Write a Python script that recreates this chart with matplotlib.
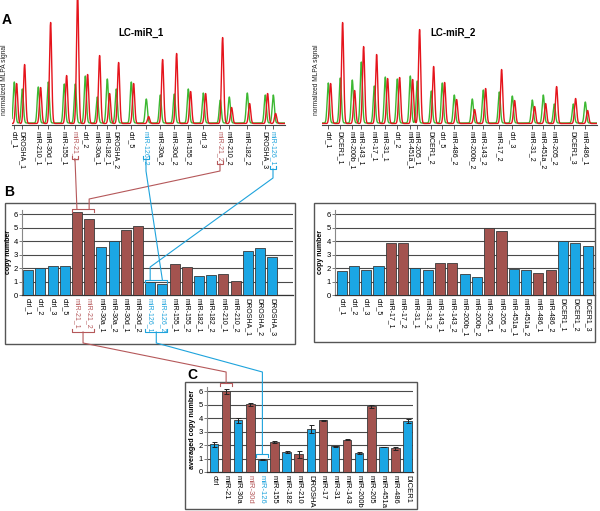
import numpy as np
import matplotlib
matplotlib.use("Agg")
import matplotlib.pyplot as plt
from matplotlib.patches import Rectangle

plt.rcParams['font.family'] = ['Liberation Sans', 'DejaVu Sans']

W, H = 600, 511
RED = "#e5141c"
GREEN = "#3cb832"
BLUE = "#1ba6e4"
BROWN = "#a3534f"
LBROWN = "#b5585a"
LBLUE = "#1ea3dc"

# ---------------- Panel A data ----------------
a1_labels = ["ctrl_1", "DROSHA_1", "miR-210_1", "miR-30d_1", "miR-155_1", "miR-21_1", "ctrl_2",
             "miR-30a_1", "miR-182_1", "DROSHA_2", "ctrl_5", "miR-126_2", "miR-30a_2", "miR-30d_2",
             "miR-155_2", "ctrl_3", "miR-21_2", "miR-210_2", "miR-182_2", "DROSHA_3", "miR-126_1"]
a1_pos = [2, 10, 26, 36, 52, 63, 73, 85, 95, 104, 119, 134, 148, 162, 176, 191, 208, 217, 235, 253, 261]
a1_green = [41, 34, 36, 41, 39, 39, 47, 26, 44, 34, 41, 24, 28, 29, 34, 30, 23, 26, 30, 28, 28]
a1_red = [40, 59, 36, 101, 48, 130, 49, 68, 30, 61, 40, 7, 64, 70, 32, 30, 86, 16, 20, 30, 10]

a2_labels = ["ctrl_1", "DICER1_1", "miR-200b_1", "miR-143_1", "miR-17_1", "miR-31_1", "ctrl_2",
             "miR-451a_1", "miR-205_1", "DICER1_2", "ctrl_5", "miR-486_2", "miR-200b_2", "miR-143_2",
             "miR-17_2", "ctrl_3", "miR-31_2", "miR-451a_2", "miR-205_2", "DICER1_3", "miR-486_1"]
a2_pos = [6, 18, 30, 39, 52, 63, 75, 88, 95, 109, 120, 132, 150, 161, 177, 190, 210, 221, 232, 251, 263]
a2_green = [40, 45, 43, 61, 37, 46, 44, 47, 42, 32, 40, 28, 24, 33, 31, 27, 23, 28, 19, 19, 21]
a2_red = [40, 101, 33, 77, 69, 45, 46, 44, 94, 57, 41, 24, 14, 35, 54, 23, 17, 20, 37, 25, 13]

# ---------------- Panel B data ----------------
b1_labels = ["ctrl_1", "ctrl_2", "ctrl_3", "ctrl_5", "miR-21_1", "miR-21_2", "miR-30a_1", "miR-30a_2",
             "miR-30d_1", "miR-30d_2", "miR-126_1", "miR-126_2", "miR-155_1", "miR-155_2", "miR-182_1",
             "miR-182_2", "miR-210_1", "miR-210_2", "DROSHA_1", "DROSHA_2", "DROSHA_3"]
b1_values = [1.86, 2.03, 2.13, 2.17, 6.15, 5.65, 3.55, 4.02, 4.79, 5.13, 0.94, 0.79, 2.27, 2.06, 1.41,
             1.51, 1.59, 1.06, 3.27, 3.47, 2.80]
b1_group = ["b", "b", "b", "b", "r", "r", "b", "b", "r", "r", "b", "b", "r", "r", "b", "b", "r", "r",
            "b", "b", "b"]

b2_labels = ["ctrl_1", "ctrl_2", "ctrl_3", "ctrl_5", "miR-17_1", "miR-17_2", "miR-31_1", "miR-31_2",
             "miR-143_1", "miR-143_2", "miR-200b_1", "miR-200b_2", "miR-205_1", "miR-205_2",
             "miR-451a_1", "miR-451a_2", "miR-486_1", "miR-486_2", "DICER1_1", "DICER1_2", "DICER1_3"]
b2_values = [1.79, 2.15, 1.86, 2.17, 3.84, 3.84, 1.97, 1.86, 2.40, 2.36, 1.54, 1.31, 5.00, 4.71,
             1.93, 1.86, 1.61, 1.86, 3.97, 3.84, 3.64]
b2_group = ["b", "b", "b", "b", "r", "r", "b", "b", "r", "r", "b", "b", "r", "r", "b", "b", "r", "r",
            "b", "b", "b"]

# ---------------- Panel C data ----------------
c_labels = ["ctrl", "miR-21", "miR-30a", "miR-30d", "miR-126", "miR-155", "miR-182", "miR-210",
            "DROSHA", "miR-17", "miR-31", "miR-143", "miR-200b", "miR-205", "miR-451a", "miR-486", "DICER1"]
c_values = [2.05, 5.97, 3.83, 5.01, 0.91, 2.22, 1.48, 1.31, 3.21, 3.83, 1.90, 2.40, 1.41, 4.86, 1.86,
            1.75, 3.81]
c_err = [0.18, 0.2, 0.2, 0.12, 0.05, 0.08, 0.06, 0.27, 0.3, 0.02, 0.06, 0.03, 0.1, 0.12, 0.02, 0.12, 0.15]
c_group = ["b", "r", "b", "r", "b", "r", "b", "r", "b", "r", "b", "r", "b", "r", "b", "r", "b"]

fig = plt.figure(figsize=(W / 100, H / 100), dpi=100)


def pax(x0, y0, x1, y1):
    return fig.add_axes([x0 / W, 1 - y1 / H, (x1 - x0) / W, (y1 - y0) / H])


# ---------------- Panel A ----------------
def trace_panel(rect, labels, pos, green, red, title, title_x, ylab_x, colored):
    ax = pax(*rect)
    span = rect[2] - rect[0]
    x = np.linspace(0, span, 3000)
    sig = 1.1
    g = np.full_like(x, 2.0)
    r = np.full_like(x, 1.5)
    for p, gh, rh in zip(pos, green, red):
        g += gh * np.exp(-(x - p - 0.3) ** 2 / (2 * sig ** 2))
        r += rh * np.exp(-(x - p - 2.6) ** 2 / (2 * sig ** 2))
    ax.plot(x, g, color=GREEN, lw=1.0, zorder=2)
    ax.plot(x, r, color=RED, lw=1.0, zorder=3)
    ax.set_xlim(0, span)
    ax.set_ylim(0, rect[3] - rect[1])
    for s in ["top", "right", "left"]:
        ax.spines[s].set_visible(False)
    ax.spines["bottom"].set_color("#444444")
    ax.spines["bottom"].set_linewidth(0.8)
    ax.set_yticks([])
    ax.set_xticks(pos)
    ax.set_xticklabels(labels, rotation=-90, fontsize=5, va="top", ha="center")
    ax.tick_params(axis="x", length=3, width=0.6, color="#444444", pad=1)
    for t in ax.get_xticklabels():
        c = colored.get(t.get_text())
        if c:
            t.set_color(c)
    ax.patch.set_visible(False)
    fig.text(title_x / W, 1 - 33 / H, title, fontsize=7, fontweight="bold", ha="center", va="center")
    fig.text(ylab_x / W, 1 - 80 / H, "normalized MLPA signal", fontsize=4.8, rotation=90,
             ha="center", va="center", color="#222222")
    return ax


colA = {"miR-21_1": LBROWN, "miR-21_2": LBROWN, "miR-126_1": LBLUE, "miR-126_2": LBLUE}
axA1 = trace_panel((12, 0, 285, 125), a1_labels, a1_pos, a1_green, a1_red, "LC-miR_1", 141, 5, colA)
axA2 = trace_panel((322, 0, 597, 125), a2_labels, a2_pos, a2_green, a2_red, "LC-miR_2", 453, 317, {})


# ---------------- Bar panels ----------------
def bar_panel(rect, labels, values, groups, ylabel, width, xlim, colored, err=None, ylab_x=None,
              ylab_fs=5):
    ax = pax(*rect)
    xs = np.arange(len(labels))
    cols = [BLUE if gp == "b" else BROWN for gp in groups]
    ax.bar(xs, values, width=width, color=cols, edgecolor="#3a3a3a", linewidth=0.6, zorder=3)
    if err is not None:
        ax.errorbar(xs, values, yerr=err, fmt="none", ecolor="#222222", elinewidth=0.7,
                    capsize=1.8, capthick=0.7, zorder=4)
    ax.set_xlim(*xlim)
    ax.set_ylim(0, 6.3)
    ax.set_yticks(range(7))
    ax.set_yticklabels([str(i) for i in range(7)], fontsize=5.5)
    ax.yaxis.grid(True, color="#4a4a4a", lw=0.8, zorder=0)
    ax.set_axisbelow(True)
    for s in ["top", "right"]:
        ax.spines[s].set_visible(False)
    ax.spines["left"].set_color("#888888")
    ax.spines["bottom"].set_color("#333333")
    ax.spines["left"].set_linewidth(0.8)
    ax.spines["bottom"].set_linewidth(0.9)
    ax.tick_params(axis="y", length=2, width=0.6, pad=1, color="#666666")
    ax.set_xticks(xs)
    ax.set_xticklabels(labels, rotation=-90, fontsize=5, va="top", ha="center")
    ax.tick_params(axis="x", length=0, pad=2)
    for t in ax.get_xticklabels():
        c = colored.get(t.get_text())
        if c:
            t.set_color(c)
    fig.text(ylab_x / W, 1 - (rect[1] + rect[3]) / 2 / H, ylabel, fontsize=ylab_fs, fontweight="bold",
             rotation=90, ha="center", va="center")
    return ax


colB = {"miR-21_1": LBROWN, "miR-21_2": LBROWN, "miR-126_1": LBLUE, "miR-126_2": LBLUE}
axB1 = bar_panel((22, 210, 293, 295), b1_labels, b1_values, b1_group, "copy number", 0.82,
                 (-0.5, 21.7), colB, ylab_x=9)
axB2 = bar_panel((335, 210, 595, 295), b2_labels, b2_values, b2_group, "copy number", 0.82,
                 (-0.54, 20.6), {}, ylab_x=321)
colC = {"miR-30d": LBROWN, "miR-126": LBLUE}
axC = bar_panel((207, 387, 413, 472), c_labels, c_values, c_group, "averaged copy number", 0.7,
                (-0.58, 16.45), colC, err=c_err, ylab_x=193, ylab_fs=5.2)
for t in axC.get_xticklabels():
    t.set_fontsize(5.5)

# ---------------- Overlay: boxes, letters, connectors ----------------
ov = fig.add_axes([0, 0, 1, 1])
ov.set_xlim(0, W)
ov.set_ylim(H, 0)
ov.set_axis_off()
for (x0, y0, x1, y1) in [(5, 203, 295, 344), (314, 203, 595, 342), (185, 382, 417, 509)]:
    ov.add_patch(Rectangle((x0, y0), x1 - x0, y1 - y0, fill=False, ec="#555555", lw=1.0))
ov.text(2, 20, "A", fontsize=10, fontweight="bold", va="center", ha="left")
ov.text(4, 192, "B", fontsize=10, fontweight="bold", va="center", ha="left")
ov.text(187, 375, "C", fontsize=10, fontweight="bold", va="center", ha="left")


def px_of(rect, xlim, xv):
    return rect[0] + (xv - xlim[0]) / (xlim[1] - xlim[0]) * (rect[2] - rect[0])


def bracket(xa, xb, y, hook, color):
    ov.plot([xa, xa, xb, xb], [y + hook, y, y, y + hook], color=color, lw=0.8)


# positions of labels in A (pixels)
xa21_1 = 12 + a1_pos[a1_labels.index("miR-21_1")]
xa21_2 = 12 + a1_pos[a1_labels.index("miR-21_2")]
xa126_1 = 12 + a1_pos[a1_labels.index("miR-126_1")]
xa126_2 = 12 + a1_pos[a1_labels.index("miR-126_2")]
# bar positions in B
b1rect, b1lim = (22, 210, 293, 295), (-0.5, 21.7)
xb21_1 = px_of(b1rect, b1lim, b1_labels.index("miR-21_1"))
xb21_2 = px_of(b1rect, b1lim, b1_labels.index("miR-21_2"))
xb126_1 = px_of(b1rect, b1lim, b1_labels.index("miR-126_1"))
xb126_2 = px_of(b1rect, b1lim, b1_labels.index("miR-126_2"))
crect, clim = (207, 387, 413, 472), (-0.58, 16.45)
xc21 = px_of(crect, clim, c_labels.index("miR-21"))
xc126 = px_of(crect, clim, c_labels.index("miR-126"))

# brackets under A labels
bracket(xa21_1 - 3, xa21_1 + 3, 159, -3, LBROWN)
bracket(xa21_2 - 3, xa21_2 + 3, 164, -3, LBROWN)
bracket(xa126_2 - 3, xa126_2 + 3, 159, -3, LBLUE)
bracket(xa126_1 - 3, xa126_1 + 3, 169, -3, LBLUE)
# brackets above B bars
bracket(xb21_1 - 5, xb21_2 + 5, 209, 3, LBROWN)
bracket(xb126_1 - 5, xb126_2 + 5, 280, 3, LBLUE)
# connectors A -> B
ov.plot([xa21_1, xb21_1], [159, 209], color=LBROWN, lw=0.8)
ov.plot([xa21_2, xa21_2, xb21_2, xb21_2], [164, 171, 199, 209], color=LBROWN, lw=0.8)
ov.plot([xa126_2, xa126_2, xb126_2], [159, 171, 280], color=LBLUE, lw=0.8)
ov.plot([xa126_1, xa126_1, xb126_1, xb126_1], [169, 178, 267, 280], color=LBLUE, lw=0.8)
# brackets under B labels
bracket(xb21_1 - 5, xb21_2 + 5, 332, -3, LBROWN)
bracket(xb126_1 - 5, xb126_2 + 5, 332, -3, LBLUE)
# connectors B -> C
xm21 = (xb21_1 + xb21_2) / 2
xm126 = (xb126_1 + xb126_2) / 2
ov.plot([xm21, xm21, xc21, xc21], [332, 343, 372, 383], color=LBROWN, lw=0.8)
ov.plot([xm126, xm126, xc126, xc126], [332, 343, 372, 454], color=LBLUE, lw=0.8)
# brackets above C bars
bracket(xc21 - 6, xc21 + 6, 383, 3, LBROWN)
bracket(xc126 - 6, xc126 + 6, 454, 3, LBLUE)

fig.savefig("out.png", dpi=100)
